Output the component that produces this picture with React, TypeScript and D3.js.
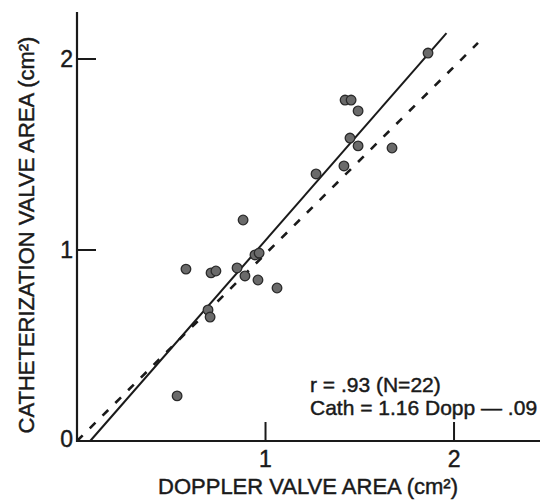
import React from "react";
import * as d3 from "d3";

const dopplerArea = [1.862, 1.422, 1.454, 1.491, 1.448, 1.491, 1.671, 1.416, 1.268, 0.881, 0.944, 0.966, 0.578, 0.711, 0.737, 0.849, 0.891, 0.96, 1.061, 0.695, 0.706, 0.531];
const cathArea = [2.031, 1.785, 1.785, 1.728, 1.586, 1.545, 1.534, 1.44, 1.398, 1.157, 0.974, 0.984, 0.9, 0.88, 0.89, 0.906, 0.864, 0.843, 0.801, 0.686, 0.649, 0.236];
const regressionX = [0.07, 1.96];
const regressionY = [0.0, 2.135];
const identityX = [0.0, 2.127];
const identityY = [0.0, 2.084];
const tickValues = [1, 2];
const zeroLabel = "0";
const xTitle = "DOPPLER VALVE AREA (cm²)";
const yTitle = "CATHETERIZATION VALVE AREA (cm²)";
const statLines = ["r = .93 (N=22)", "Cath = 1.16 Dopp — .09"];

export default function App() {
  const W = 544, H = 500;
  const x = d3.scaleLinear().domain([0, 2.456]).range([77, 540]);
  const y = d3.scaleLinear().domain([0, 2.246]).range([441, 12]);
  const line = d3.line<[number, number]>().x(d => x(d[0])).y(d => y(d[1]));
  const reg: [number, number][] = regressionX.map((v, i) => [v, regressionY[i]]);
  const ident: [number, number][] = identityX.map((v, i) => [v, identityY[i]]);
  const font = "'Liberation Sans', Arial, sans-serif";
  const ink = "#1a1a1a";
  const textStroke = { stroke: ink, strokeWidth: 0.45 };
  return (
    <svg width={W} height={H} style={{ position: "absolute", left: 0, top: 0, background: "#fff" }} fontFamily={font}>
      {/* axes */}
      <line x1={x(0)} x2={x(0)} y1={y(0) + 1} y2={y(2.246)} stroke={ink} strokeWidth={2.2} />
      <line x1={x(0) - 1} x2={x(2.456)} y1={y(0)} y2={y(0)} stroke={ink} strokeWidth={2.2} />
      {tickValues.map(t => (
        <g key={"yt" + t}>
          <line x1={x(0)} x2={x(0) + 19} y1={y(t)} y2={y(t)} stroke={ink} strokeWidth={2} />
          <text x={x(0) - 4} y={y(t) + 8} fontSize={23} textAnchor="end" fill={ink} {...textStroke}>{t}</text>
        </g>
      ))}
      {tickValues.map(t => (
        <g key={"xt" + t}>
          <line x1={x(t)} x2={x(t)} y1={y(0)} y2={y(0) - 19} stroke={ink} strokeWidth={2} />
          <text x={x(t)} y={y(0) + 26} fontSize={23} textAnchor="middle" fill={ink} {...textStroke}>{t}</text>
        </g>
      ))}
      <text x={x(0) - 4} y={y(0) + 6} fontSize={23} textAnchor="end" fill={ink} {...textStroke}>{zeroLabel}</text>
      {/* fit lines */}
      <path d={line(ident) || ""} fill="none" stroke={ink} strokeWidth={2.6} strokeDasharray="8,10" />
      <path d={line(reg) || ""} fill="none" stroke={ink} strokeWidth={2} />
      {/* points */}
      {dopplerArea.map((d, i) => (
        <circle key={i} cx={x(d)} cy={y(cathArea[i])} r={4.8} fill="#6a6a6a" stroke="#2a2a2a" strokeWidth={1.3} />
      ))}
      {/* stats */}
      {statLines.map((s, i) => (
        <text key={s} x={310} y={392 + i * 23} fontSize={21} fill={ink} {...textStroke}>{s}</text>
      ))}
      {/* titles */}
      <text x={308} y={494} fontSize={22} textAnchor="middle" fill={ink} {...textStroke}>{xTitle}</text>
      <text transform={`translate(34,235) rotate(-90)`} fontSize={22} textAnchor="middle" fill={ink} {...textStroke}>{yTitle}</text>
    </svg>
  );
}
